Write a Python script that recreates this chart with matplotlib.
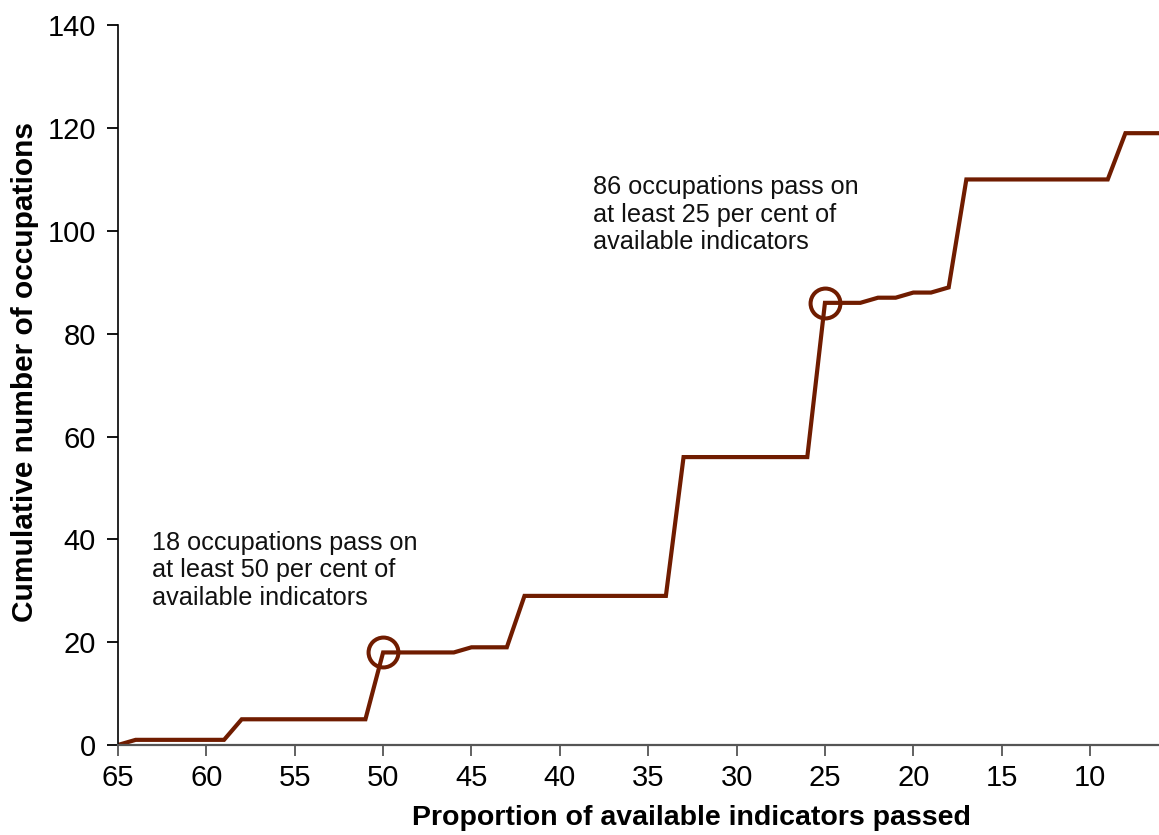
import matplotlib
matplotlib.use("Agg")
import matplotlib.pyplot as plt
from matplotlib import font_manager

proportion = [65, 64, 63, 62, 61, 60, 59, 58, 57, 56, 55, 54, 53, 52, 51, 50, 49, 48, 47, 46,
              45, 44, 43, 42, 41, 40, 39, 38, 37, 36, 35, 34, 33, 32, 31, 30, 29, 28, 27, 26,
              25, 24, 23, 22, 21, 20, 19, 18, 17, 16, 15, 14, 13, 12, 11, 10, 9, 8, 7, 6]
cumulative = [0, 1, 1, 1, 1, 1, 1, 5, 5, 5, 5, 5, 5, 5, 5, 18, 18, 18, 18, 18,
              19, 19, 19, 29, 29, 29, 29, 29, 29, 29, 29, 29, 56, 56, 56, 56, 56, 56, 56, 56,
              86, 86, 86, 87, 87, 88, 88, 89, 110, 110, 110, 110, 110, 110, 110, 110, 110, 119, 119, 119]
highlight_x = [50, 25]
highlight_y = [18, 86]
notes = ["18 occupations pass on\nat least 50 per cent of\navailable indicators",
         "86 occupations pass on\nat least 25 per cent of\navailable indicators"]
note_pos = [(63.1, 41.6), (38.1, 110.8)]
xticks = [65, 60, 55, 50, 45, 40, 35, 30, 25, 20, 15, 10]
yticks = [0, 20, 40, 60, 80, 100, 120, 140]

names = {f.name for f in font_manager.fontManager.ttflist}
narrow = 'Liberation Sans Narrow' if 'Liberation Sans Narrow' in names else 'Liberation Sans'
plt.rcParams['font.family'] = ['Liberation Sans', 'DejaVu Sans']

color = '#701c00'
fig = plt.figure(figsize=(11.59, 8.35), dpi=100)
ax = fig.add_axes([0.1018, 0.1078, 0.8982, 0.862])
ax.plot(proportion, cumulative, color=color, lw=3.0, solid_joinstyle='miter')
ax.plot(highlight_x, highlight_y, 'o', ms=21.5, mfc='none', mec=color, mew=2.9)
for t, (x, y) in zip(notes, note_pos):
    ax.text(x, y, t, fontsize=18.2, va='top', ha='left', linespacing=1.17, color='#111111')

ax.set_xlim(65, 6.1)
ax.set_ylim(0, 140)
ax.set_xticks(xticks)
ax.set_yticks(yticks)
ax.tick_params(axis='both', labelsize=21, direction='out', length=8, width=1.3)
ax.tick_params(axis='x', colors='#555555', labelcolor='black', pad=6)
ax.tick_params(axis='y', pad=8)
for s in ['top', 'right']:
    ax.spines[s].set_visible(False)
ax.spines['left'].set_linewidth(1.2)
ax.spines['bottom'].set_linewidth(1.6)
ax.spines['bottom'].set_color('#555555')
ax.set_xlabel('Proportion of available indicators passed', fontsize=20.5, fontweight='bold')
ax.xaxis.set_label_coords((691 - 118) / 1041, -(818 - 745) / 720)
ax.xaxis.label.set_va('center')
ax.set_ylabel('Cumulative number of occupations', fontsize=21.5, fontweight='bold',
              family=[narrow, 'DejaVu Sans'])
ax.yaxis.set_label_coords(-(118 - 25) / 1041, (745 - 372) / 720)
ax.yaxis.label.set_va('center')
fig.savefig('out.png', dpi=100)
